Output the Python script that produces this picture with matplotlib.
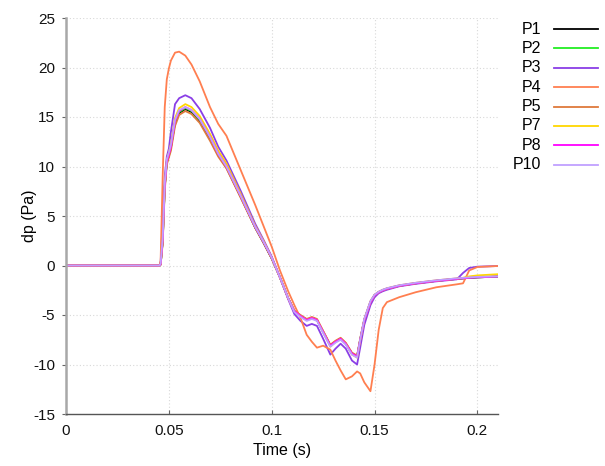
import matplotlib

matplotlib.use("Agg")
import matplotlib.pyplot as plt  # noqa: E402
from matplotlib.lines import Line2D  # noqa: E402

plt.rcParams.update({
    "font.family": "sans-serif",
    "font.sans-serif": ["Liberation Sans", "Arial", "DejaVu Sans"],
    "font.size": 11,
    "axes.unicode_minus": False,
})

# shared time grid (s)
time = [0, 0.0455, 0.046, 0.047, 0.048, 0.049, 0.050, 0.051, 0.053, 0.055,
        0.058, 0.061, 0.065, 0.070, 0.074, 0.078, 0.085, 0.092, 0.096, 0.100,
        0.104, 0.108, 0.111, 0.114, 0.117, 0.1195, 0.122, 0.125, 0.1285, 0.131,
        0.1335, 0.136, 0.139, 0.1415, 0.143, 0.145, 0.148, 0.150, 0.152, 0.154,
        0.156, 0.162, 0.170, 0.180, 0.190, 0.193, 0.196, 0.200, 0.21]

p1 = [0, 0, 0.1, 2.4, 7.9, 10.4, 11.1, 11.9, 14.4, 15.4,
      15.8, 15.5, 14.6, 12.8, 11.2, 9.9, 6.9, 3.8, 2.3, 0.7,
      -1.2, -3.3, -4.6, -5.1, -5.5, -5.3, -5.5, -6.7, -8.1, -7.7,
      -7.4, -7.9, -8.9, -9.2, -7.5, -5.5, -3.7, -3.0, -2.7, -2.5,
      -2.35, -2.05, -1.8, -1.55, -1.35, -1.3, -1.25, -1.2, -1.12]
p2 = [0, 0, 0.1, 2.5, 8.0, 10.5, 11.2, 12.0, 14.5, 15.5,
      15.9, 15.6, 14.7, 12.9, 11.3, 10.0, 7.0, 3.9, 2.4, 0.8,
      -1.2, -3.3, -4.6, -5.1, -5.5, -5.3, -5.5, -6.7, -8.1, -7.7,
      -7.4, -7.9, -8.9, -9.2, -7.5, -5.5, -3.7, -3.0, -2.7, -2.5,
      -2.35, -2.05, -1.8, -1.55, -1.35, -1.3, -1.25, -1.2, -1.12]
p3 = [0, 0, 0.3, 4.5, 9.0, 11.0, 11.8, 13.5, 16.3, 16.9,
      17.2, 16.9, 15.8, 13.9, 12.0, 10.6, 7.5, 4.2, 2.6, 0.9,
      -1.2, -3.4, -4.9, -5.6, -6.1, -5.9, -6.1, -7.4, -9.0, -8.4,
      -7.9, -8.4, -9.6, -10.0, -8.3, -6.0, -4.0, -3.2, -2.8, -2.6,
      -2.45, -2.1, -1.85, -1.6, -1.4, -0.75, -0.25, -0.12, -0.05]
p4 = [0, 0, 0.5, 9.0, 16.0, 18.8, 19.9, 20.7, 21.5, 21.6,
      21.2, 20.3, 18.6, 16.0, 14.3, 13.1, 9.6, 6.1, 4.0, 1.9,
      -0.5, -2.6, -4.0, -5.3, -7.0, -7.7, -8.3, -8.1, -8.5, -9.6,
      -10.6, -11.5, -11.2, -10.7, -10.9, -11.8, -12.7, -10.0, -6.5, -4.3,
      -3.7, -3.2, -2.7, -2.2, -1.9, -1.8, -0.5, -0.15, -0.05]
p5 = [0, 0, 0.1, 2.2, 7.6, 10.2, 10.9, 11.6, 14.1, 15.2,
      15.6, 15.3, 14.4, 12.6, 11.0, 9.8, 6.8, 3.8, 2.3, 0.7,
      -1.2, -3.3, -4.6, -5.0, -5.4, -5.2, -5.4, -6.6, -8.0, -7.6,
      -7.3, -7.8, -8.8, -9.1, -7.4, -5.4, -3.6, -2.95, -2.65, -2.45,
      -2.3, -2.0, -1.75, -1.5, -1.3, -1.25, -1.2, -1.15, -1.08]
p7 = [0, 0, 0.1, 2.6, 8.1, 10.6, 11.4, 12.3, 14.9, 15.9,
      16.3, 16.0, 15.1, 13.3, 11.6, 10.3, 7.2, 4.0, 2.5, 0.8,
      -1.2, -3.3, -4.6, -5.1, -5.5, -5.3, -5.5, -6.7, -8.2, -7.7,
      -7.4, -7.9, -9.0, -9.3, -7.6, -5.5, -3.7, -3.0, -2.7, -2.5,
      -2.35, -2.05, -1.8, -1.55, -1.35, -1.25, -1.1, -1.0, -0.88]
p8 = [0, 0, 0.1, 2.5, 8.0, 10.5, 11.2, 12.0, 14.6, 15.6,
      16.0, 15.7, 14.8, 13.0, 11.3, 10.0, 7.0, 3.9, 2.4, 0.8,
      -1.2, -3.3, -4.6, -5.1, -5.5, -5.3, -5.5, -6.7, -8.1, -7.7,
      -7.4, -7.9, -8.9, -9.2, -7.5, -5.5, -3.7, -3.0, -2.7, -2.5,
      -2.35, -2.05, -1.8, -1.55, -1.35, -1.3, -1.25, -1.2, -1.12]
p10 = [0, 0, 0.2, 2.8, 8.3, 10.7, 11.4, 12.2, 14.7, 15.7,
       16.0, 15.7, 14.8, 13.0, 11.3, 10.0, 7.0, 3.9, 2.4, 0.8,
       -1.2, -3.3, -4.7, -5.2, -5.6, -5.4, -5.6, -6.8, -8.2, -7.8,
       -7.5, -8.0, -9.0, -9.3, -7.5, -5.4, -3.6, -2.95, -2.65, -2.45,
       -2.3, -2.0, -1.75, -1.5, -1.3, -1.25, -1.2, -1.15, -1.1]

labels = ["P1", "P2", "P3", "P4", "P5", "P7", "P8", "P10"]
series = [p1, p2, p3, p4, p5, p7, p8, p10]
colors = ["#000000", "#22ee22", "#8a3ee6", "#ff7f50", "#de7a3c",
          "#ffd700", "#ff00ff", "#c0a0ff"]

x_ticks = [0, 0.05, 0.1, 0.15, 0.2]
x_ticklabels = ["0", "0.05", "0.1", "0.15", "0.2"]
y_ticks = [-15, -10, -5, 0, 5, 10, 15, 20, 25]

fig = plt.figure(figsize=(6.05, 4.66), dpi=100)
ax = fig.add_axes([66 / 605, 1 - 414 / 466, 432 / 605, 396 / 466])

for lab, vals, col in zip(labels, series, colors):
    ax.plot(time, vals, color=col, linewidth=1.3, label=lab)

ax.set_xlim(0, 0.21)
ax.set_ylim(-15, 25)
ax.set_xticks(x_ticks)
ax.set_xticklabels(x_ticklabels)
ax.set_yticks(y_ticks)
ax.grid(True, color="#d8d8d8", linestyle=(0, (1, 2)), linewidth=0.8)
ax.set_axisbelow(True)
for side in ("top", "right"):
    ax.spines[side].set_visible(False)
ax.spines["left"].set_color("#a8a8a8")
ax.spines["left"].set_linewidth(1.8)
ax.spines["bottom"].set_color("#555555")
ax.spines["bottom"].set_linewidth(1.0)
ax.tick_params(labelcolor="#111111", labelsize=11, color="#666666")
ax.tick_params(axis="x", direction="in", length=3, pad=7)
ax.tick_params(axis="y", direction="out", length=3, pad=5)
ax.set_xlabel("Time (s)", fontsize=11.5, labelpad=4)
ax.set_ylabel("dp (Pa)", fontsize=11.5)
ax.yaxis.set_label_coords(-0.067, 0.5)

# right-side key: label right-aligned, line sample after it
for i, (lab, col) in enumerate(zip(labels, colors)):
    y = 1 - (29 + i * 19.4) / 466
    fig.text(541 / 605, y, lab, ha="right", va="center", fontsize=11.5)
    fig.add_artist(Line2D([554 / 605, 598 / 605], [y, y], color=col,
                          linewidth=1.3, transform=fig.transFigure))

fig.savefig("out.png", dpi=100)
